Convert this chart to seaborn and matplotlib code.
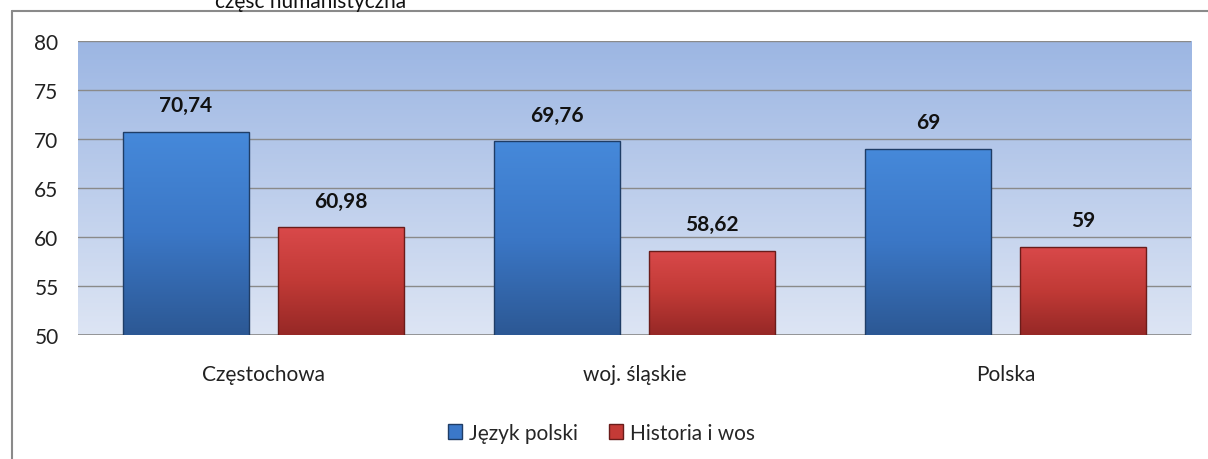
import numpy as np
import pandas as pd
import matplotlib
matplotlib.use("Agg")
import matplotlib.pyplot as plt
from matplotlib.colors import LinearSegmentedColormap
from matplotlib.lines import Line2D
from matplotlib.patches import Rectangle
import seaborn as sns

# Data
regions = ["Częstochowa", "woj. śląskie", "Polska"]
jezyk_polski = [70.74, 69.76, 69]
historia_wos = [60.98, 58.62, 59]
series = ["Język polski", "Historia i wos"]
labels_jp = ["70,74", "69,76", "69"]
labels_hw = ["60,98", "58,62", "59"]

df = pd.DataFrame({
    "region": regions * 2,
    "wynik": jezyk_polski + historia_wos,
    "przedmiot": [series[0]] * 3 + [series[1]] * 3,
})

sns.set_style("white")
plt.rcParams["font.family"] = ["Lato", "DejaVu Sans"]

fig = plt.figure(figsize=(12.08, 4.6), dpi=100)
ax = fig.add_axes([0.0646, 0.2696, 0.9214, 0.6391])

blue, red = "#3B78C9", "#C43A36"
sns.barplot(data=df, x="region", y="wynik", hue="przedmiot",
            palette=[blue, red], width=0.836, gap=0.19, ax=ax,
            edgecolor="none", legend=True, zorder=3)

ymin, ymax = 50, 80
ax.set_ylim(ymin, ymax)
ax.set_yticks(range(50, 81, 5))
ax.set_xlabel("")
ax.set_ylabel("")
ax.tick_params(axis="both", labelsize=15, colors="#222222", length=0)
ax.tick_params(axis="y", pad=14)
ax.tick_params(axis="x", pad=21)
for s in ax.spines.values():
    s.set_visible(False)
ax.grid(axis="y", color="#8a8a8a", linewidth=1.0, zorder=1)
ax.axhline(ymin, color="#8a8a8a", linewidth=1.2, zorder=2)
ax.set_axisbelow(True)

# background gradient
bg = LinearSegmentedColormap.from_list("bg", ["#dde5f4", "#9cb6e3"])
xl = ax.get_xlim()
ax.imshow(np.linspace(0, 1, 256).reshape(-1, 1), cmap=bg, aspect="auto",
          extent=[xl[0], xl[1], ymin, ymax], origin="lower", zorder=0)

# bar gradients, clipped to the visible part of each bar
cm_blue = LinearSegmentedColormap.from_list("b", ["#2c5894", "#3b77c6", "#4689da"])
cm_red = LinearSegmentedColormap.from_list("r", ["#962826", "#c13a36", "#d9494a"])
edges = ["#1f3d66", "#6a1c1a"]
for cont, cm, ec in zip(ax.containers, [cm_blue, cm_red], edges):
    for p in cont:
        x0, w, top = p.get_x(), p.get_width(), p.get_y() + p.get_height()
        clip = Rectangle((x0, ymin), w, top - ymin, transform=ax.transData)
        im = ax.imshow(np.linspace(0, 1, 256).reshape(-1, 1), cmap=cm,
                       aspect="auto", extent=[x0, x0 + w, ymin, top],
                       origin="lower", zorder=4)
        im.set_clip_path(clip)
        p.set_facecolor("none")
        p.set_edgecolor(ec)
        p.set_linewidth(1.0)
        p.set_zorder(5)
ax.set_xlim(xl)
ax.set_ylim(ymin, ymax)

for cont, labs in zip(ax.containers, [labels_jp, labels_hw]):
    ax.bar_label(cont, labels=labs, padding=12, fontsize=15,
                 fontweight="bold", color="#111111", zorder=6)

leg = ax.legend(loc="upper center", bbox_to_anchor=(0.47, -0.235), ncol=2,
                frameon=False, fontsize=15, handlelength=0.7, handleheight=0.7,
                handletextpad=0.3, columnspacing=1.5)
for h, c in zip(leg.legend_handles, [blue, red]):
    h.set_facecolor(c)
    h.set_edgecolor(edges[0] if c == blue else edges[1])

# frame and cut-off title
fig.add_artist(Line2D([12 / 1208, 12 / 1208], [0, 1 - 12 / 460],
                      transform=fig.transFigure, color="#8a8a8a", lw=1.5))
fig.add_artist(Line2D([12 / 1208, 1], [1 - 12 / 460, 1 - 12 / 460],
                      transform=fig.transFigure, color="#8a8a8a", lw=1.5))
fig.text(215 / 1208, 1 - 2 / 460, "część humanistyczna", fontsize=15,
         va="center", ha="left", color="#111111")

fig.savefig("out.png", dpi=100)
